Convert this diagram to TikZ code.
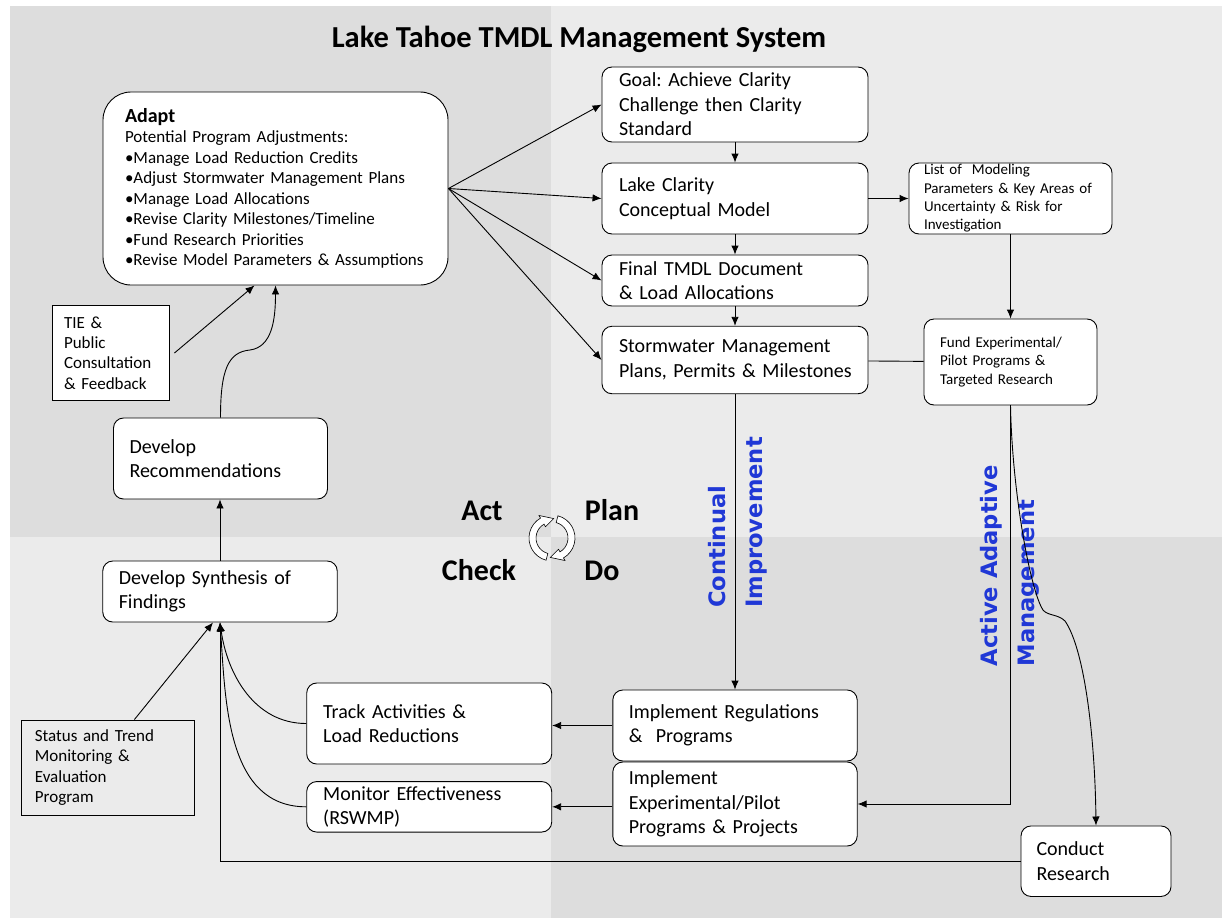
\documentclass[tikz,border=0pt]{standalone}
\usepackage{fontspec}
\setmainfont{Carlito}
\newfontfamily\labelfont{DejaVu Sans}
\usetikzlibrary{arrows.meta}
\frenchspacing
\hyphenpenalty=10000
\definecolor{quadDark}{HTML}{DDDDDD}
\definecolor{quadLight}{HTML}{EBEBEB}
\definecolor{cycleBlue}{RGB}{32,56,214}
\tikzset{
	box/.style = {draw, fill=white, rounded corners=10pt, align=left, inner ysep=0pt, line width=0.9pt, font=\fontsize{20}{24.5}\selectfont},
	smallbox/.style = {font=\fontsize{15}{18.3}\selectfont},
	sqbox/.style = {draw, align=left, inner ysep=0pt, line width=0.9pt, font=\fontsize{17}{20.3}\selectfont},
	arr/.style = {-{Latex[length=9pt,width=7.5pt]}, line width=0.9pt},
	link/.style = {line width=0.9pt},
	phase/.style = {font=\fontsize{30}{36}\selectfont\bfseries, anchor=base},
	looplabel/.style = {text=cycleBlue, font=\labelfont\fontsize{22.6}{37}\selectfont\bfseries, rotate=90, align=left, anchor=west, inner sep=0pt}
}
\begin{document}
\begin{tikzpicture}[x=1pt, y=1pt]
	\useasboundingbox (0,0) rectangle (1222,-918);
	\fill[white] (0,0) rectangle (1222,-918);
	\fill[quadDark] (10,-6) rectangle (551,-537);
	\fill[quadLight] (551,-6) rectangle (1222,-537);
	\fill[quadLight] (10,-537) rectangle (551,-918);
	\fill[quadDark] (551,-537) rectangle (1222,-918);

	\node[font=\fontsize{30.5}{36}\selectfont\bfseries, anchor=base] (title) at (579,-47) {Lake Tahoe TMDL Management System};

	\node[box, rounded corners=28pt, inner xsep=22pt, text width=301pt, minimum height=193pt, font=\fontsize{17}{20.5}\selectfont] (adapt) at (275.5,-188.5)
		{{\fontsize{20}{24}\selectfont\bfseries Adapt}\\Potential Program Adjustments:\\•Manage Load Reduction Credits\\•Adjust Stormwater Management Plans\\•Manage Load Allocations\\•Revise Clarity Milestones/Timeline\\•Fund Research Priorities\\•Revise Model Parameters \& Assumptions};
	\node[box, inner xsep=17pt, text width=232pt, minimum height=75pt] (goal) at (735,-104.5) {Goal: Achieve Clarity\\Challenge then Clarity\\Standard};
	\node[box, inner xsep=17pt, text width=232pt, minimum height=71pt] (lake) at (735,-198.5) {Lake Clarity\\Conceptual Model};
	\node[box, inner xsep=17pt, text width=232pt, minimum height=51pt] (final) at (735,-280.5) {Final TMDL Document\\\& Load Allocations};
	\node[box, inner xsep=17pt, text width=232pt, minimum height=67.5pt] (storm) at (735,-360) {Stormwater Management\\\mbox{Plans, Permits \& Milestones}};
	\node[box, smallbox, inner xsep=15pt, text width=173pt, minimum height=71pt] (list) at (1010.5,-198.5) {List of~ Modeling\\Parameters \& Key Areas of\\Uncertainty \& Risk for\\Investigation};
	\node[box, smallbox, inner xsep=16pt, text width=141pt, minimum height=86pt] (fund) at (1010.5,-362) {Fund Experimental/\\Pilot Programs \&\\Targeted Research};
	\node[sqbox, fill=white, inner xsep=12pt, text width=93pt, minimum height=95.7pt] (tie) at (110.5,-353) {TIE \&\\Public\\Consultation\\\& Feedback};
	\node[box, inner xsep=16pt, text width=182pt, minimum height=81pt] (rec) at (220.5,-458.5) {Develop\\Recommendations};
	\node[box, inner xsep=16pt, text width=202.5pt, minimum height=61pt] (synth) at (220,-591.5) {Develop Synthesis of\\Findings};
	\node[box, inner xsep=16.5pt, text width=212pt, minimum height=81pt] (track) at (429.2,-723.5) {Track Activities \&\\Load Reductions};
	\node[box, inner xsep=16.5pt, text width=212pt, minimum height=50.5pt] (monitor) at (429.2,-806.8) {Monitor Effectiveness\\(RSWMP)};
	\node[sqbox, inner xsep=13pt, text width=147pt, minimum height=95pt] (status) at (108.4,-767.5) {Status and Trend\\Monitoring \&\\Evaluation\\Program};
	\node[box, inner xsep=16pt, text width=212.4pt, minimum height=71pt] (implreg) at (735,-725.5) {Implement Regulations\\\& \ Programs};
	\node[box, inner xsep=16pt, text width=212.4pt, minimum height=84pt] (implexp) at (735,-804) {Implement\\Experimental/Pilot\\Programs \& Projects};
	\node[box, inner xsep=15.5pt, text width=119pt, minimum height=70.5pt] (conduct) at (1096,-861.2) {Conduct\\Research};

	\node[phase] (act) at (482,-520) {Act};
	\node[phase] (plan) at (612,-520) {Plan};
	\node[phase] (check) at (479,-580) {Check};
	\node[phase] (do) at (602,-580) {Do};
	\begin{scope}[shift={(552,-538)}, line width=0.6pt]
		\draw[fill=white] (75:23) arc[start angle=75, end angle=-60, radius=23] -- (-60:26) -- (-95:19.5) -- (-60:13) -- (-60:16) arc[start angle=-60, end angle=75, radius=16] -- cycle;
		\draw[fill=white] (255:23) arc[start angle=255, end angle=120, radius=23] -- (120:26) -- (85:19.5) -- (120:13) -- (120:16) arc[start angle=120, end angle=255, radius=16] -- cycle;
	\end{scope}

	\node[looplabel] (contimp) at (738,-608) {Continual\\Improvement};
	\node[looplabel] (aam) at (1010,-666.5) {Active Adaptive\\Management};

	\draw[arr] (adapt.east) -- (goal.west);
	\draw[arr] (adapt.east) -- (lake.west);
	\draw[arr] (adapt.east) -- (final.west);
	\draw[arr] (adapt.east) -- (storm.west);
	\draw[arr] (goal) -- (lake);
	\draw[arr] (lake) -- (final);
	\draw[arr] (final) -- (storm);
	\draw[arr] (lake) -- (list);
	\draw[arr] (list) -- (fund);
	\draw[link] (storm) -- (fund);
	\draw[arr] (storm) -- (implreg);
	\draw[arr] (fund.south) |- (implexp.east);
	\draw[arr] (fund.south) .. controls (1012,-490) and (1030,-590) .. (1043,-610) .. controls (1048,-616) and (1058,-614) .. (1065,-621) .. controls (1085,-650) and (1095,-740) .. (conduct.north);
	\draw[arr] (implreg.west) -- (implreg.west -| track.east);
	\draw[arr] (monitor.east -| implexp.west) -- (monitor.east);
	\draw[arr] (conduct.west) -| (synth.south);
	\draw[arr] (track.west) to[out=180, in=-82] (synth.south);
	\draw[arr] (monitor.west) to[out=180, in=-86] (synth.south);
	\draw[arr] ([xshift=26pt]status.north) -- ([xshift=-7pt]synth.south);
	\draw[arr] (synth.north) -- (synth.north |- rec.south);
	\draw[arr] (rec.north) .. controls (220.5,-370) and (228,-352) .. (250,-350) .. controls (272,-347) and (275.5,-320) .. (adapt.south);
	\draw[arr] ([xshift=5pt]tie.east) -- ([xshift=-21pt]adapt.south);
\end{tikzpicture}
\end{document}
